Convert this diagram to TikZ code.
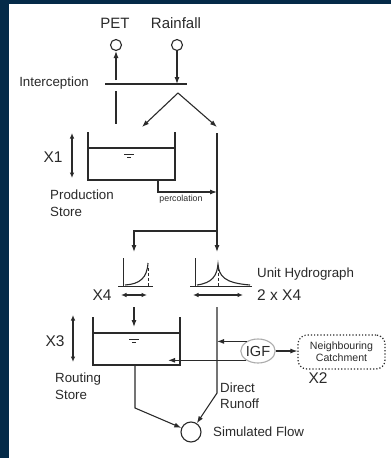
\documentclass[tikz,border=0pt]{standalone}
\usepackage{fontspec}
\setmainfont{Liberation Sans}
\usetikzlibrary{arrows.meta,shapes.geometric}

\definecolor{navy}{RGB}{4,42,72}
\definecolor{ink}{RGB}{42,42,42}

\tikzset{
    flow/.style={line width=1.1pt, draw=ink},
    arr/.style={flow, -{Latex[length=7pt,width=5pt]}},
    dblarr/.style={flow, {Latex[length=5.5pt,width=4.5pt]}-{Latex[length=5.5pt,width=4.5pt]}},
    lab/.style={text=ink, inner sep=0pt, font=\fontsize{13.3}{16}\selectfont},
    xlab/.style={text=ink, inner sep=0pt, font=\fontsize{15.5}{18}\selectfont},
    port/.style={circle, draw=ink, line width=1.1pt, minimum size=11pt, inner sep=0pt},
    store/.pic={
        \draw[flow] (0,0) -- (0,48) -- (87,48) -- (87,0);
        \draw[flow] (0,16) -- (87,16);
        \draw[flow, line width=0.8pt] (36,22) -- (46,22) (39,25.5) -- (43,25.5);
    },
}

\begin{document}
\begin{tikzpicture}[x=1pt,y=-1pt]
    \fill[navy] (0,0) rectangle (391,458);
    \fill[white] (9,4) rectangle (391,458);
    \useasboundingbox (0,0) rectangle (391,458);

    % inputs
    \node[xlab, font=\fontsize{15}{18}\selectfont] (pet) at (115,23) {PET};
    \node[xlab, font=\fontsize{15}{18}\selectfont] (rain) at (176,23) {Rainfall};
    \node[port] (petin) at (116,45) {};
    \node[port] (rainin) at (177,45) {};

    % interception
    \coordinate (intl) at (105,84);
    \coordinate (intr) at (187,84);
    \draw[flow] (intl) -- (intr);
    \node[lab, anchor=east] (intlab) at (89,83) {Interception};
    \draw[arr] (rainin) -- (rainin |- intl);
    \coordinate (petup) at (116,80);
    \coordinate (petlo) at (116,91);
    \coordinate (petbot) at (116,124);
    \draw[arr] (petup) -- (petin);
    \draw[flow] (petlo) -- (petbot);
    \coordinate (split) at (178,93);
    \coordinate (toprod) at (142,127);
    \coordinate (toroute) at (217,127);
    \draw[arr] (split) -- (toprod);
    \draw[arr] (split) -- (toroute);

    % production store
    \pic at (88,132) {store};
    \draw[dblarr] (72,133) -- (72,178);
    \node[xlab] (xone) at (53,157) {X1};
    \node[lab, anchor=west] (prodlab) at (50,195) {Production};
    \node[lab, anchor=west] (prodlabb) at (50,212) {Store};

    % percolation and routing channel
    \coordinate (percout) at (158,180);
    \coordinate (chtop) at (217,133);
    \coordinate (fork) at (217,231);
    \coordinate (uhonein) at (134,252);
    \coordinate (uhtwoin) at (217,252);
    \draw[arr] (percout) -- (158,192) -- (chtop |- 0,192);
    \node[text=ink, inner sep=0pt, font=\fontsize{8.8}{10}\selectfont] (perclab) at (181,199) {percolation};
    \draw[arr] (chtop) -- (uhtwoin);
    \draw[arr] (fork) -| (uhonein);

    % unit hydrographs
    \draw[flow, line width=0.8pt] (123,258) -- (123,286) (118,286) -- (153,286);
    \draw[flow] (125,285) .. controls (140,284) and (147,278) .. (148,263);
    \draw[ink, densely dashed, line width=0.4pt] (148,268) -- (148,286);
    \draw[flow, line width=0.8pt] (195,258) -- (195,286) (190,286) -- (252,286);
    \draw[flow] (197,285) .. controls (212,283) and (217,276) .. (218,264)
        .. controls (219,276) and (224,283) .. (250,285);
    \draw[ink, densely dashed, line width=0.4pt] (218,268) -- (218,286);
    \draw[dblarr] (121,295) -- (147,295);
    \draw[dblarr] (193,295) -- (243,295);
    \node[xlab] (xfour) at (102,295) {X4};
    \node[lab, anchor=west] (uhlab) at (257,274) {Unit Hydrograph};
    \node[xlab, anchor=west] (xfourb) at (257,295) {2 x X4};

    % routing store
    \coordinate (uhoneout) at (134,307);
    \coordinate (routein) at (134,327);
    \draw[arr] (uhoneout) -- (routein);
    \pic at (93,317) {store};
    \draw[dblarr] (73,315) -- (73,362);
    \node[xlab] (xthree) at (55,341) {X3};
    \node[lab, anchor=west] (routlab) at (55,379) {Routing};
    \node[lab, anchor=west] (routlabb) at (55,395) {Store};

    % exchange
    \node[ellipse, draw=gray!65, line width=1.1pt, minimum width=34pt, minimum height=24pt,
        inner sep=0pt, text=ink, font=\fontsize{14.6}{16}\selectfont] (igf) at (258,351) {IGF};
    \node[draw=ink, dotted, line width=1.2pt, rounded corners=9pt, minimum width=87pt,
        minimum height=34pt, align=center, text=ink, font=\fontsize{10.6}{12}\selectfont] (nbr) at (341.5,352) {Neighbouring\\Catchment};
    \node[xlab] (xtwo) at (318,378) {X2};
    \coordinate (drtop) at (217,307);
    \coordinate (drbend) at (217,393);
    \coordinate (routeout) at (135,364);
    \coordinate (routebend) at (135,408);
    \coordinate (igfin) at (168,357);
    \draw[arr] (igf.140) -- (igf.140 -| drtop);
    \draw[arr] (igf.218) -- (igf.218 -| igfin);
    \draw[arr] (igf.east) -- (igf.east -| nbr.west);

    % outlet
    \node[port, minimum size=20pt] (sim) at (191,432) {};
    \node[lab, anchor=west] (simlab) at (213,432) {Simulated Flow};
    \node[lab, anchor=west] (drlab) at (220,388) {Direct};
    \node[lab, anchor=west] (drlabb) at (220,404) {Runoff};
    \draw[arr] (drtop) -- (drbend) -- (sim);
    \draw[arr] (routeout) -- (routebend) -- (sim);
\end{tikzpicture}
\end{document}
